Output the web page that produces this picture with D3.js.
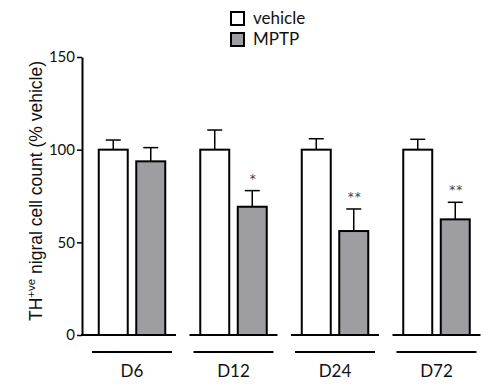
<!DOCTYPE html>
<html><head><meta charset="utf-8">
<script src="https://cdn.jsdelivr.net/npm/d3@7"></script>
<style>body{margin:0;background:#fff}</style>
</head><body>
<svg id="c" width="500" height="390"></svg>
<script>
const groups = ["D6", "D12", "D24", "D72"];
const series = ["vehicle", "MPTP"];
const vehicleMean = [100, 100, 100, 100];
const vehicleErr = [105.2, 110.6, 105.9, 105.6];
const mptpMean = [93.7, 69.2, 56.1, 62.4];
const mptpErr = [101.1, 77.9, 68.0, 71.6];
const stars = ["", "*", "**", "**"];
const yTicks = [0, 50, 100, 150];

const svg = d3.select("#c");
const y = d3.scaleLinear().domain([0, 150]).range([335, 57]);
const x0 = d3.scaleBand().domain(groups).range([81.25, 487.25]).padding(0);
const x1 = d3.scaleBand().domain(series).range([17.5, 84]).paddingInner(0.227).paddingOuter(0);
const fills = {vehicle: "#ffffff", MPTP: "#9e9da2"};

const data = groups.map((g, i) => ({
  g,
  bars: [
    {s: "vehicle", v: vehicleMean[i], e: vehicleErr[i]},
    {s: "MPTP", v: mptpMean[i], e: mptpErr[i]}
  ],
  star: stars[i]
}));

const gg = svg.selectAll("g.grp").data(data).join("g").attr("class", "grp")
  .attr("transform", d => `translate(${x0(d.g)},0)`);

gg.selectAll("g.eb").data(d => d.bars).join("g").attr("class", "eb").each(function(d) {
  const cx = x1(d.s) + x1.bandwidth() / 2;
  const g = d3.select(this);
  g.append("line").attr("x1", cx).attr("x2", cx).attr("y1", y(d.v)).attr("y2", y(d.e))
    .attr("stroke", "#000").attr("stroke-width", 1.5);
  g.append("line").attr("x1", cx - 7.5).attr("x2", cx + 7.5).attr("y1", y(d.e)).attr("y2", y(d.e))
    .attr("stroke", "#000").attr("stroke-width", 1.5);
});

gg.selectAll("rect.bar").data(d => d.bars).join("rect").attr("class", "bar")
  .attr("x", d => x1(d.s)).attr("width", x1.bandwidth())
  .attr("y", d => y(d.v)).attr("height", d => y(0) - y(d.v))
  .attr("fill", d => fills[d.s]).attr("stroke", "#000").attr("stroke-width", 2);

gg.append("text").text(d => d.star)
  .attr("x", x1("MPTP") + x1.bandwidth() / 2 + 1)
  .attr("y", (d, i) => y(mptpErr[i]) - 8)
  .attr("text-anchor", "middle")
  .attr("font-family", "DejaVu Sans").attr("font-size", 12)
  .attr("letter-spacing", 1)
  .attr("fill", "#3a4252");

groups.forEach((g, i) => {
  const c = x0(g) + x0.bandwidth() / 2;
  svg.append("line").attr("x1", i === 0 ? 81 : c - 44).attr("x2", c + 44)
    .attr("y1", y(0)).attr("y2", y(0)).attr("stroke", "#000").attr("stroke-width", 2);
  svg.append("line").attr("x1", c - 40).attr("x2", c + 40)
    .attr("y1", 352).attr("y2", 352).attr("stroke", "#000").attr("stroke-width", 2);
  svg.append("text").text(g).attr("x", c).attr("y", 377)
    .attr("text-anchor", "middle").attr("font-family", "Lato").attr("font-size", 17).attr("fill", "#111");
});

const ax = svg.append("g").attr("transform", "translate(82,0)")
  .call(d3.axisLeft(y).tickValues(yTicks).tickSize(5).tickSizeOuter(0).tickPadding(2));
ax.select(".domain").attr("stroke", "#000").attr("stroke-width", 2);
ax.selectAll(".tick line").attr("stroke", "#000").attr("stroke-width", 1.5);
ax.selectAll(".tick text").attr("font-family", "Lato").attr("font-size", 15).attr("fill", "#111");

const yl = svg.append("text").attr("transform", "translate(42,191) rotate(-90)")
  .attr("text-anchor", "middle").attr("font-family", "Liberation Sans").attr("font-size", 17.5).attr("fill", "#111");
yl.append("tspan").text("TH");
yl.append("tspan").text("+ve").attr("font-size", 11.5).attr("dy", -7);
yl.append("tspan").text(" nigral cell count (% vehicle)").attr("dy", 7);

const lg = svg.append("g").selectAll("g").data(series).join("g")
  .attr("transform", (d, i) => `translate(231,${12 + i * 21})`);
lg.append("rect").attr("width", 13).attr("height", 13)
  .attr("fill", d => fills[d]).attr("stroke", "#000").attr("stroke-width", 2);
lg.append("text").text(d => d).attr("x", 22).attr("y", 12)
  .attr("font-family", "Lato").attr("font-size", 17).attr("fill", "#111");
</script>
</body></html>
